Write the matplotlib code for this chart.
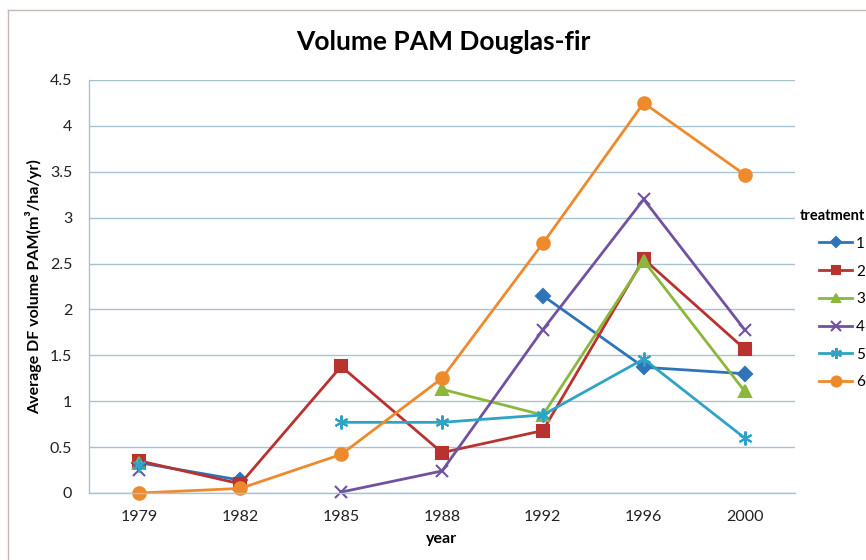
import numpy as np
import matplotlib
matplotlib.use("Agg")
import matplotlib.pyplot as plt
from matplotlib.lines import Line2D

plt.rcParams["font.family"] = ["Lato", "DejaVu Sans"]

years = ["1979", "1982", "1985", "1988", "1992", "1996", "2000"]
nan = np.nan
t1 = [0.33, 0.14, nan, nan, 2.15, 1.37, 1.30]
t2 = [0.35, 0.10, 1.38, 0.44, 0.68, 2.55, 1.57]
t3 = [0.33, nan, nan, 1.13, 0.85, 2.53, 1.11]
t4 = [0.25, nan, 0.01, 0.24, 1.78, 3.20, 1.78]
t5 = [0.30, nan, 0.77, 0.77, 0.85, 1.46, 0.60]
t6 = [0.00, 0.05, 0.42, 1.25, 2.72, 4.25, 3.47]
labels = ["1", "2", "3", "4", "5", "6"]

series = [t1, t2, t3, t4, t5, t6]
colors = ["#2F73B8", "#B8322F", "#8CB63C", "#7152A0", "#2FA3C4", "#EE8A2E"]
markers = ["D", "s", "^", "x", (6, 2, 0), "o"]
msizes = [7, 8, 8, 9, 10, 9]

fig = plt.figure(figsize=(8.66, 5.6), dpi=100)
ax = fig.add_axes([89 / 866, 67 / 560, 706 / 866, 413 / 560])

x = np.arange(len(years))
handles = []
for vals, c, m, ms, lab in zip(series, colors, markers, msizes, labels):
    h, = ax.plot(x, vals, color=c, lw=2.0, marker=m, ms=ms, mew=1.5,
                 mec=c, mfc=c, label=lab, clip_on=False)
    handles.append(h)

grid_c = "#A9C2CF"
ax.set_xlim(-0.5, len(years) - 0.5)
ax.set_ylim(0, 4.5)
ax.set_yticks(np.arange(0, 4.51, 0.5))
ax.set_yticklabels(["0", "0.5", "1", "1.5", "2", "2.5", "3", "3.5", "4", "4.5"])
ax.set_xticks(x)
ax.set_xticklabels(years)
ax.yaxis.grid(True, color=grid_c, lw=1.0)
ax.set_axisbelow(True)
for s in ["top", "right"]:
    ax.spines[s].set_visible(False)
for s in ["left", "bottom"]:
    ax.spines[s].set_color(grid_c)
    ax.spines[s].set_linewidth(1.0)
ax.tick_params(axis="both", length=0, labelsize=11.5, colors="#222222")
ax.tick_params(axis="y", pad=12)
ax.tick_params(axis="x", pad=12)

ax.set_xlabel("year", fontsize=11.5, fontweight="bold", labelpad=6)
ax.set_ylabel("Average DF volume PAM(m\u00b3/ha/yr)", fontsize=11.5,
              fontweight="bold", labelpad=6)
fig.text(443 / 866, 1 - 42 / 560, "Volume PAM Douglas-fir", ha="center",
         va="center", fontsize=19, fontweight="bold")

leg = fig.legend(handles=handles, labels=labels, loc="upper right",
                 bbox_to_anchor=(865 / 866, 1 - 209 / 560), frameon=False,
                 title="treatment", fontsize=11, handlelength=2.2,
                 labelspacing=0.9, handletextpad=0.25, alignment="right",
                 borderaxespad=0, borderpad=0, markerscale=0.8)
leg.get_title().set_fontweight("bold")
leg.get_title().set_fontsize(10.5)
leg._legend_box.align = "right"

# chart area border
fig.add_artist(Line2D([8 / 866, 8 / 866], [0, 1 - 10 / 560], color="#C8B8B4",
                      lw=1.0, transform=fig.transFigure))
fig.add_artist(Line2D([8 / 866, 1], [1 - 10 / 560, 1 - 10 / 560],
                      color="#C8B8B4", lw=1.0, transform=fig.transFigure))

fig.savefig("out.png", dpi=100)
